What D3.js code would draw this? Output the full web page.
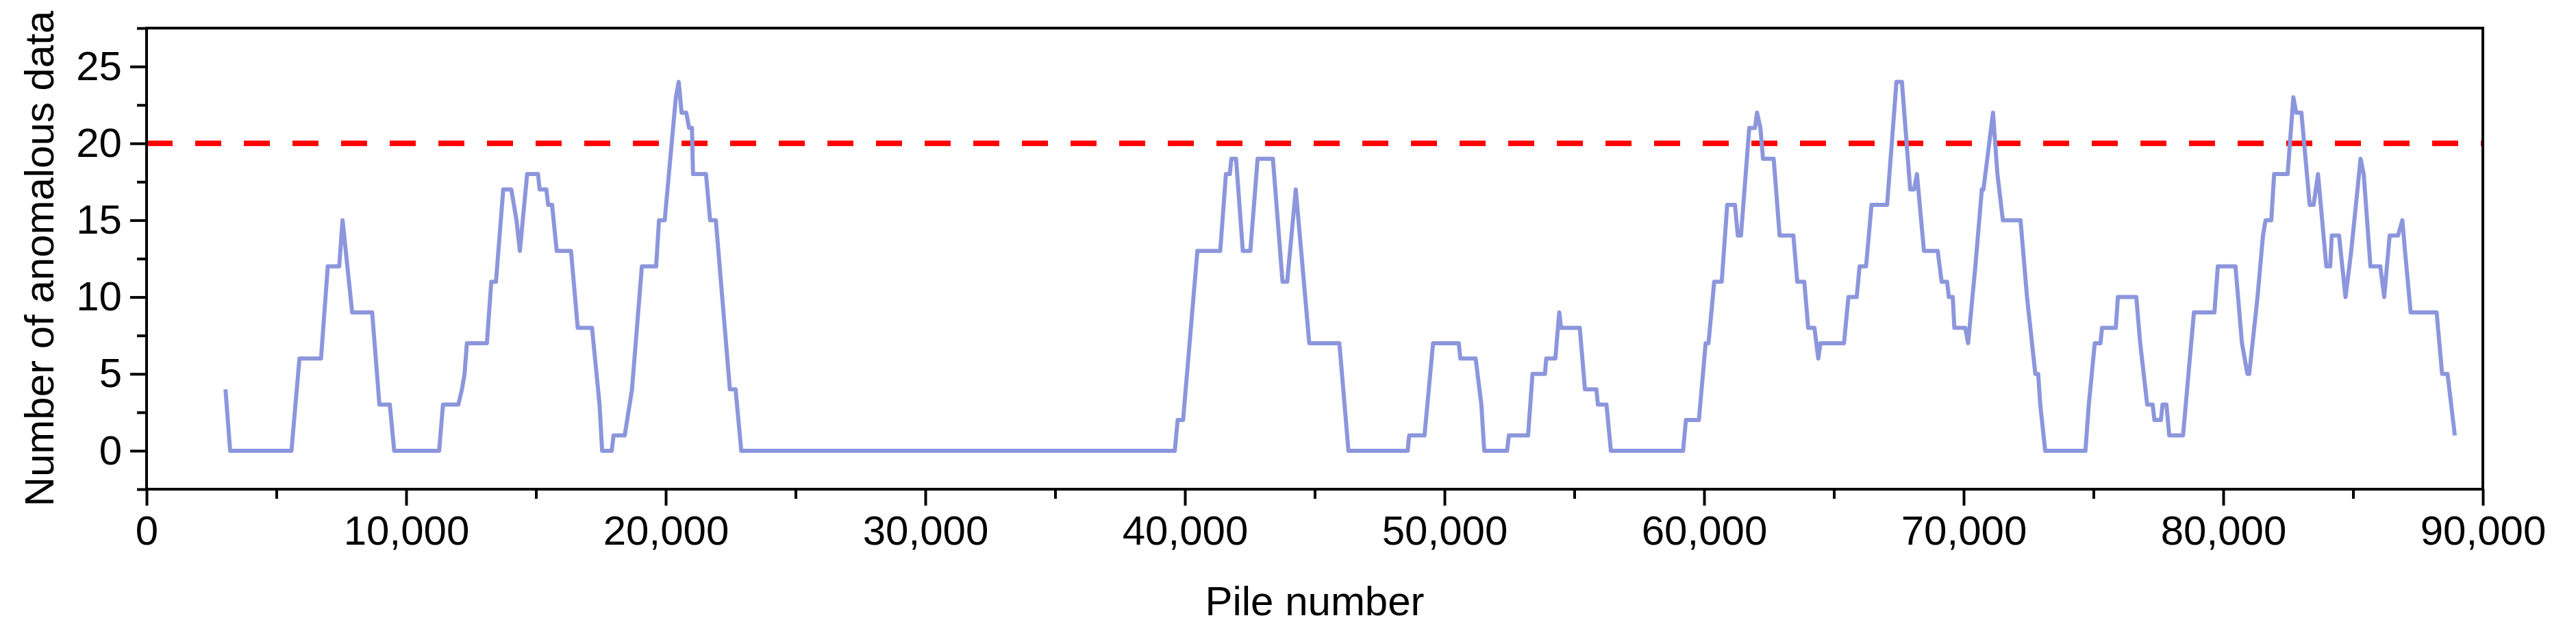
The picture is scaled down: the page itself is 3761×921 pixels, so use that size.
<!DOCTYPE html>
<html><head><meta charset="utf-8">
<script src="https://cdn.jsdelivr.net/npm/d3@7"></script>
<style>body{margin:0;background:#fff}</style></head>
<body><svg id="c" width="3761" height="921"></svg>
<script>
const pileX = [3040,3220,5580,5890,6720,6980,7420,7550,7920,8690,8970,9370,9540,11270,11420,12010,12150,12250,12340,13110,13280,13460,13740,14050,14250,14380,14660,15080,15140,15400,15470,15620,15800,16350,16610,17160,17450,17550,17920,17990,18420,18700,19080,19630,19740,19960,20390,20500,20610,20790,20900,21010,21050,21550,21710,21930,22470,22690,22910,39610,39720,39930,40480,41360,41580,41730,41790,41970,42230,42520,42800,43390,43760,43940,44270,44790,45950,46300,48580,48640,49230,49560,50550,50610,51200,51420,51530,52410,52480,53220,53390,53870,53920,54270,54420,54490,55210,55410,55850,55910,56240,56410,59190,59300,59800,60060,60170,60390,60680,60890,61190,61300,61420,61740,61960,62040,62170,62270,62680,62910,63440,63590,63860,64010,64250,64400,64480,65390,65560,65880,65990,66240,66450,67050,67410,67620,67940,68090,68200,68470,69000,69150,69360,69430,69580,69640,70060,70170,70450,70700,70760,70910,71130,71300,71510,72190,72440,72760,72870,72950,73140,74690,74820,75050,75270,75330,75860,75940,76650,76800,77070,77280,77350,77600,77660,77810,77920,78450,78870,79660,79790,80470,80720,80930,81000,81320,81530,81630,81850,81960,82480,82700,82810,83010,83330,83480,83650,83970,84120,84180,84460,84710,84930,85290,85410,85670,86050,86200,86410,86730,86900,87000,87220,88220,88430,88640,88920];
const anomalies = [4,0,0,6,6,12,12,15,9,9,3,3,0,0,3,3,4,5,7,7,11,11,17,17,15,13,18,18,17,17,16,16,13,13,8,8,3,0,0,1,1,4,12,12,15,15,23,24,22,22,21,21,18,18,15,15,4,4,0,0,2,2,13,13,18,18,19,19,13,13,19,19,11,11,17,7,7,0,0,1,1,7,7,6,6,3,0,0,1,1,5,5,6,6,9,8,8,4,4,3,3,0,0,2,2,7,7,11,11,16,16,14,14,21,21,22,21,19,19,14,14,11,11,8,8,6,7,7,10,10,12,12,16,16,24,24,17,17,18,13,13,11,11,10,10,8,8,7,12,17,17,19,22,18,15,15,10,5,5,3,0,0,3,7,7,8,8,10,10,7,3,3,2,2,3,3,1,1,9,9,12,12,7,5,5,10,14,15,15,18,18,23,22,22,16,16,18,12,12,14,14,10,13,19,18,12,12,10,14,14,15,13,9,9,5,5,1];
const threshold = 20;
const xTicks = [0,10000,20000,30000,40000,50000,60000,70000,80000,90000];
const yTicks = [0,5,10,15,20,25];
const data = pileX.map((x,i)=>({x, y: anomalies[i]}));

const L=214, R=3625, T=41, B=714;
const svg = d3.select('#c');
const x = d3.scaleLinear().domain([0,90000]).range([L,R]);
const y = d3.scaleLinear().domain([-2.5,27.5]).range([B,T]);
const font = 'Liberation Sans, Arial, sans-serif';

svg.append('line').attr('x1',L).attr('x2',R).attr('y1',y(threshold)).attr('y2',y(threshold))
  .attr('stroke','#ff0000').attr('stroke-width',8).attr('stroke-dasharray','38,33');

svg.append('path').datum(data)
  .attr('d', d3.line().x(d=>x(d.x)).y(d=>y(d.y)))
  .attr('fill','none').attr('stroke','#8c96dc').attr('stroke-width',6).attr('stroke-linejoin','round');

svg.append('rect').attr('x',L).attr('y',T).attr('width',R-L).attr('height',B-T)
  .attr('fill','none').attr('stroke','#000').attr('stroke-width',4);

const xa = svg.append('g').attr('transform',`translate(0,${B})`)
  .call(d3.axisBottom(x).tickValues(xTicks).tickFormat(d3.format(',')).tickSize(24).tickPadding(14));
const xm = svg.append('g').attr('transform',`translate(0,${B})`)
  .call(d3.axisBottom(x).tickValues(d3.range(5000,90000,10000)).tickFormat('').tickSize(14));
const ya = svg.append('g').attr('transform',`translate(${L},0)`)
  .call(d3.axisLeft(y).tickValues(yTicks).tickSize(24).tickPadding(12));
const ym = svg.append('g').attr('transform',`translate(${L},0)`)
  .call(d3.axisLeft(y).tickValues([-2.5,2.5,7.5,12.5,17.5,22.5,27.5]).tickFormat('').tickSize(14));
[xa,xm,ya,ym].forEach(g=>{
  g.select('.domain').remove();
  g.selectAll('line').attr('stroke','#000').attr('stroke-width',4);
  g.selectAll('text').attr('font-family',font).attr('font-size',60).attr('fill','#000');
});

svg.append('text').attr('x',(L+R)/2).attr('y',898).attr('text-anchor','middle')
  .attr('font-family',font).attr('font-size',60).text('Pile number');
svg.append('text').attr('transform',`translate(78,${(T+B)/2}) rotate(-90)`).attr('text-anchor','middle')
  .attr('font-family',font).attr('font-size',60).text('Number of anomalous data');
</script></body></html>
